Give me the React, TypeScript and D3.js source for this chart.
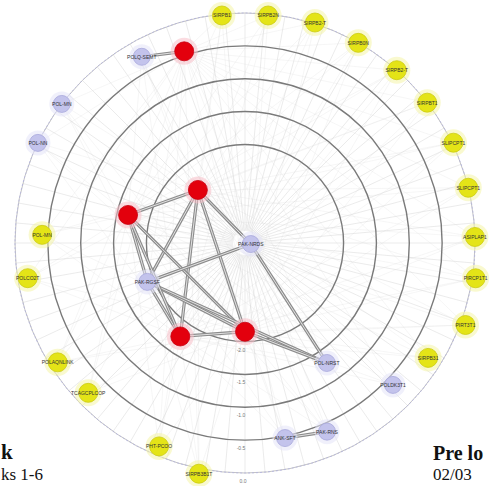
import React from "react";
import * as d3 from "d3";

const W = 491;
const H = 486;

// node data: polar layout (angle in degrees clockwise from top, radial value)
const nodeNames = [
  "", "", "", "", "",
  "POLQ-SEMT", "POL-MN", "POL-NN", "PAK-NRDS", "PAK-RGSF", "POL-NRST", "POLDK3T1", "PAK-RNS", "ANK-SFT",
  "SIRPB1", "SIRPB2N", "SIRPB2-T", "SIRPB0N", "SIRPB2-T", "SIRPBT1", "SLIPCPT1", "SLIPCPT1", "ASIPLAP1", "PIRCP1T1", "PIRT3T1", "SIRPB31",
  "POL-MN", "POLCO2T", "POLAQNLINK", "TCAGCPLCOP", "PHT-PCOO", "SIRPB3B1T",
];
const nodeGroups = [
  "red", "red", "red", "red", "red",
  "purple", "purple", "purple", "purple", "purple", "purple", "purple", "purple", "purple",
  "yellow", "yellow", "yellow", "yellow", "yellow", "yellow", "yellow", "yellow", "yellow", "yellow", "yellow", "yellow",
  "yellow", "yellow", "yellow", "yellow", "yellow", "yellow",
];
const nodeAngles = [
  342.4, 318.4, 283.5, 214.7, 180,
  331, 307.2, 295.8, 100, 248.3, 145.7, 133.8, 156.5, 168.4,
  354.2, 5.8, 17.6, 29.5, 41.3, 52.4, 64.3, 76.1, 88.5, 98.7, 110.4, 122.1,
  272.3, 260.8, 237.5, 226.3, 202.9, 191.3,
];
const nodeValues = [
  -0.44, -2.42, -1.67, -1.77, -2.15,
  -0.26, 0, 0, -3.41, -1.9, -1.29, -0.38, -0.37, -0.47,
  -0.02, -0.02, 0.02, 0, 0, 0, 0.02, 0, 0, 0.05, 0.08, -0.21,
  -0.41, -0.15, -0.12, -0.2, -0.14, 0.08,
];

// strong edges
const edgeSources = [1, 1, 1, 1, 1, 2, 2, 9, 9, 9, 8, 3, 4, 3, 0, 12, 2];
const edgeTargets = [2, 9, 3, 4, 8, 9, 4, 4, 8, 10, 10, 4, 10, 9, 5, 13, 3];

// ring axis
const ringTicks = [-2.0, -1.5, -1.0, -0.5];
const ringTickLabels = ["-2.0", "-1.5", "-1.0", "-0.5"];
const outerRing = 0;

const cx = 245;
const cy = 243;
const rScale = d3.scaleLinear().domain([-3.5, 0]).range([0, 230]);

function pos(i: number) {
  const a = (nodeAngles[i] * Math.PI) / 180;
  const r = rScale(nodeValues[i]);
  return [cx + r * Math.sin(a), cy - r * Math.cos(a)];
}

const fillOf: Record<string, string> = { red: "#e3000d", purple: "#c3c3ec", yellow: "#e4e417" };
const haloOf: Record<string, string> = { red: "#f7c0c8", purple: "#e4e4f8", yellow: "#f4f4a8" };

export default function App() {
  const pts = nodeNames.map((_, i) => pos(i));
  const spokeAngles = d3.range(0, 360, 5);
  const redIdx = nodeGroups.map((g, i) => (g === "red" ? i : -1)).filter((i) => i >= 0);
  const outerIdx = nodeGroups.map((g, i) => (g !== "red" && i !== 8 ? i : -1)).filter((i) => i >= 0);
  const line = d3.line();
  return (
    <svg width={W} height={H} style={{ position: "absolute", left: 0, top: 0, background: "#fff" }}
      fontFamily="Liberation Serif">
      {/* faint spokes */}
      {spokeAngles.map((a, k) => {
        const t = (a * Math.PI) / 180;
        return (
          <line key={"s" + k} x1={cx + 12 * Math.sin(t)} y1={cy - 12 * Math.cos(t)}
            x2={cx + rScale(0) * Math.sin(t)} y2={cy - rScale(0) * Math.cos(t)}
            stroke="#e6e6e6" strokeWidth={0.8} />
        );
      })}
      {/* faint edges from red nodes */}
      {redIdx.map((r) =>
        outerIdx.map((o) => (
          <path key={"f" + r + "-" + o} d={line([pts[r] as any, pts[o] as any]) || ""}
            stroke="#d8d8d8" strokeWidth={0.5} opacity={0.45} fill="none" />
        ))
      )}
      {/* rings */}
      {ringTicks.map((t, k) => (
        <circle key={"r" + k} cx={cx} cy={cy} r={rScale(t)} fill="none" stroke="#7a7a7a" strokeWidth={1.4} />
      ))}
      <circle cx={cx} cy={cy} r={rScale(outerRing)} fill="none" stroke="#c4c4c4" strokeWidth={1} />
      <circle cx={cx} cy={cy} r={rScale(outerRing)} fill="none" stroke="#b0b0e0" strokeWidth={0.8} strokeDasharray="2,2" />
      {ringTicks.map((t, k) => (
        <text key={"rl" + k} x={cx - 4} y={cy + rScale(t) + 10} fontSize={5} fill="#777"
          fontFamily="Liberation Sans" textAnchor="middle">{ringTickLabels[k]}</text>
      ))}
      <text x={cx - 2} y={cy + rScale(outerRing) + 10} fontSize={5} fill="#777" fontFamily="Liberation Sans" textAnchor="middle">0.0</text>
      {/* strong edges */}
      {edgeSources.map((s, k) => (
        <g key={"e" + k}>
          <path d={line([pts[s] as any, pts[edgeTargets[k]] as any]) || ""} stroke="#8c8c8c" strokeWidth={3.2} fill="none" />
          <path d={line([pts[s] as any, pts[edgeTargets[k]] as any]) || ""} stroke="#e2e2e2" strokeWidth={1} fill="none" />
        </g>
      ))}
      {/* nodes */}
      {pts.map((p, i) => {
        const g = nodeGroups[i];
        const r = g === "purple" ? 8.5 : 9.5;
        return (
          <g key={"n" + i}>
            <circle cx={p[0]} cy={p[1]} r={r + 4} fill={haloOf[g]} opacity={0.55} />
            <circle cx={p[0]} cy={p[1]} r={r} fill={fillOf[g]} stroke={g === "red" ? "#c80010" : g === "yellow" ? "#cccc10" : "#a8a8dc"} strokeWidth={0.8} />
            {nodeNames[i] && (
              <text x={p[0]} y={p[1] + 2} fontSize={5} fill="#333" textAnchor="middle"
                fontFamily="Liberation Sans">{nodeNames[i]}</text>
            )}
          </g>
        );
      })}
      {/* surrounding page text */}
      <text x={1} y={459} fontSize={21} fontWeight="bold" fill="#111">k</text>
      <text x={1} y={480} fontSize={17} fill="#111">ks 1-6</text>
      <text x={433} y={460} fontSize={20} fontWeight="bold" fill="#111">Pre lo</text>
      <text x={433} y={480} fontSize={17} fill="#111">02/03</text>
    </svg>
  );
}
